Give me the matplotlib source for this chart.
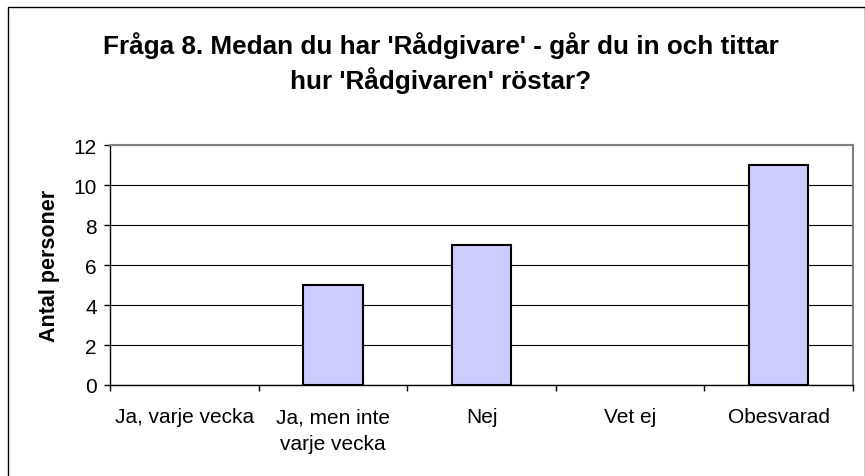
import matplotlib
matplotlib.use('Agg')
import matplotlib.pyplot as plt
from matplotlib.patches import Rectangle

plt.rcParams['font.family'] = ['Liberation Sans', 'DejaVu Sans']

categories = ['Ja, varje vecka', 'Ja, men inte\nvarje vecka', 'Nej', 'Vet ej', 'Obesvarad']
values = [0, 5, 7, 0, 11]
y_ticks = [0, 2, 4, 6, 8, 10, 12]

W, H = 865, 477
fig = plt.figure(figsize=(W / 100, H / 100), dpi=100)
fig.patch.set_facecolor('white')

# outer chart frame (open at the bottom, as in the source)
fig.patches.append(Rectangle((8 / W, -0.1), (864.5 - 8) / W, 1.1 - 8 / H,
                             transform=fig.transFigure, fill=False,
                             edgecolor='black', linewidth=1.0))

ax = fig.add_axes([110 / W, (H - 386) / H, (853 - 110) / W, (386 - 146) / H])

x = list(range(len(categories)))
# empty categories draw no outline
edge_w = [1.5 if v > 0 else 0 for v in values]
ax.bar(x, values, width=0.4, color='#CCCCFF', edgecolor='black', linewidth=edge_w, zorder=3)

ax.set_xlim(-0.5, len(categories) - 0.5)
ax.set_ylim(0, 12)
ax.set_yticks(y_ticks)
ax.set_yticklabels([str(v) for v in y_ticks], fontsize=15)
ax.yaxis.grid(True, color='black', linewidth=0.8, zorder=0)
ax.tick_params(axis='y', direction='out', length=4.5, width=1, pad=5)

# tick marks at category boundaries, labels at centres
ax.set_xticks([i - 0.5 for i in range(len(categories) + 1)])
ax.set_xticklabels([])
ax.tick_params(axis='x', which='major', direction='out', length=4.5, width=1)
ax.set_xticks(x, minor=True)
ax.set_xticklabels(categories, minor=True, fontsize=15, linespacing=1.5)
ax.tick_params(axis='x', which='minor', length=0, pad=16)

for side in ['top', 'right']:
    ax.spines[side].set_color('#808080')
    ax.spines[side].set_linewidth(1.5)
for side in ['left', 'bottom']:
    ax.spines[side].set_color('black')
    ax.spines[side].set_linewidth(1.0)

ax.set_ylabel('Antal personer', fontsize=15.5, fontweight='bold', labelpad=10)

fig.text(441 / W, 1 - 32 / H,
         "Fråga 8. Medan du har 'Rådgivare' - går du in och tittar\nhur 'Rådgivaren' röstar?",
         ha='center', va='top', fontsize=18.8, fontweight='bold', linespacing=1.38)

fig.savefig('out.png', dpi=100)
